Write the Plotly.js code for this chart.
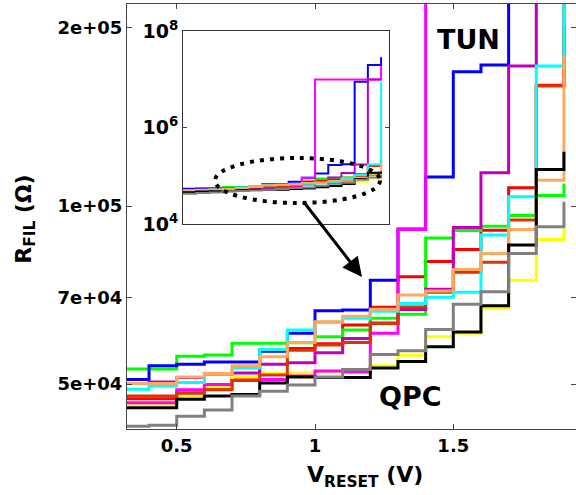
<!DOCTYPE html>
<html>
<head>
<meta charset="utf-8">
<script src="https://cdn.plot.ly/plotly-3.0.1.min.js"></script>
<style>html,body{margin:0;padding:0;background:#fff;}#chart{width:576px;height:495px;}</style>
</head>
<body>
<div id="chart"></div>
<script>
// Reset voltage steps (V)
const vReset = [0.3,0.4,0.5,0.6,0.7,0.8,0.9,1.0,1.1,1.2,1.3,1.4,1.5,1.6,1.7,1.8,1.9];

// Filament resistance per device (Ohm)
const blue    = [50900,53700,54000,54500,54500,56800,60900,66500,66700,74900,91400,112000,168700,173200,9.0e6,2.0e7,2.9e7];
const magenta = [46500,46500,48900,49900,50700,50900,51600,52600,52400,60900,91300,1.0e7,1.0e7,1.0e7,1.0e7,1.0e7,1.9e7];
const purple  = [50100,50400,51300,52000,52200,54000,54300,56500,59700,63400,66800,72300,92000,113800,172500,1.0e7,1.0e7];
const cyan    = [49000,49600,50300,52000,53200,57200,61700,63600,64600,66400,68400,70100,71500,89300,103700,172500,9.0e6];
const red     = [47200,47200,48300,49200,51100,57000,57400,58500,62900,67400,75900,80600,84400,91000,107400,160000,230000];
const darkred = [47700,47700,48300,48900,50700,51800,57000,58200,58800,63300,67500,71500,77300,80300,94700,159500,201600];
const orange  = [50100,50100,51400,52100,53700,55600,58800,63700,65100,66900,70700,71800,78100,83100,91300,110600,180000];
const green   = [53000,53000,55700,56000,58600,58600,58700,60100,61700,64600,65600,88300,90900,92400,96400,104200,109200];
const yellow  = [46200,46200,47500,49400,51400,52100,52200,52400,52800,53700,55900,60100,60900,67100,74900,87800,91600];
const black   = [45600,45600,47100,47700,48000,50200,51400,51300,51300,53200,54600,57800,61200,67800,85900,115300,123500];
const gray    = [42400,42600,44100,45200,47700,48600,49800,51400,52900,56100,56900,61800,68200,71600,83100,92200,101700];

const mainTickVals = [5e4, 7e4, 1e5, 2e5];
const mainTickText = ['5e+04', '7e+04', '1e+05', '2e+05'];
const xTickVals = [0.5, 1, 1.5];
const xTickText = ['0.5', '1', '1.5'];
const insetTickVals = [1e4, 1e6, 1e8];
const insetTickText = ['10<sup>4</sup>', '10<sup>6</sup>', '10<sup>8</sup>'];

// draw order bottom -> top
const series = [
  {y: red, c: '#FF0000'},
  {y: green, c: '#00FF00'},
  {y: yellow, c: '#FFFF00'},
  {y: blue, c: '#0000FF'},
  {y: magenta, c: '#FF00FF'},
  {y: purple, c: '#BF00BF'},
  {y: darkred, c: '#DD3300'},
  {y: cyan, c: '#00FFFF'},
  {y: orange, c: '#FFA860'},
  {y: black, c: '#000000'},
  {y: gray, c: '#808080'}
];

const traces = [];
series.forEach(s => {
  traces.push({x: vReset, y: s.y, type: 'scatter', mode: 'lines',
    line: {shape: 'hv', color: s.c, width: 3}, xaxis: 'x', yaxis: 'y', hoverinfo: 'skip'});
});
series.forEach(s => {
  traces.push({x: vReset, y: s.y, type: 'scatter', mode: 'lines',
    line: {shape: 'hv', color: s.c, width: 2}, xaxis: 'x2', yaxis: 'y2', hoverinfo: 'skip'});
});

const F = 'DejaVu Sans, Arial, sans-serif';
const layout = {
  width: 576, height: 495,
  margin: {l: 127, r: 0, t: 4, b: 66},
  paper_bgcolor: '#fff', plot_bgcolor: '#fff',
  showlegend: false,
  xaxis: {
    domain: [0, 1], range: [0.3203, 1.9436],
    tickvals: xTickVals, ticktext: xTickText,
    ticks: 'inside', ticklen: 5, tickcolor: '#444', mirror: 'ticks',
    showline: true, linecolor: '#444', linewidth: 1, showgrid: false, zeroline: false,
    tickfont: {family: F, size: 18, color: '#000', weight: 'bold'}
  },
  yaxis: {
    type: 'log', range: [4.6229, 5.3416],
    tickvals: mainTickVals, ticktext: mainTickText,
    ticks: 'inside', ticklen: 5, tickcolor: '#444', mirror: 'ticks',
    showline: true, linecolor: '#444', linewidth: 1, showgrid: false, zeroline: false,
    tickfont: {family: F, size: 18, color: '#000', weight: 'bold'}
  },
  xaxis2: {
    domain: [0.1247, 0.5835], range: [0.4, 1.96], anchor: 'y2',
    showticklabels: false, ticks: '', showline: true, mirror: true,
    linecolor: '#333', linewidth: 1, showgrid: false, zeroline: false
  },
  yaxis2: {
    domain: [0.4824, 0.9355], type: 'log', range: [3.999, 8.001], anchor: 'x2',
    tickvals: insetTickVals, ticktext: insetTickText,
    ticks: 'inside', ticklen: 4, tickcolor: '#444', mirror: 'ticks',
    showline: true, linecolor: '#333', linewidth: 1, showgrid: false, zeroline: false,
    tickfont: {family: F, size: 19, color: '#000', weight: 'bold'}
  },
  shapes: [
    {type: 'circle', xref: 'paper', yref: 'paper', x0: 0.196, x1: 0.5635, y0: 0.5318, y1: 0.6376,
     line: {color: '#000', width: 4, dash: '4px,6px'}}
  ],
  annotations: [
    {xref: 'paper', yref: 'paper', x: 0.5234, y: 0.3576, ax: -59, ay: -76, axref: 'pixel', ayref: 'pixel',
     text: '', showarrow: true, arrowhead: 2, arrowsize: 1.3, arrowwidth: 3, arrowcolor: '#000'},
    {xref: 'paper', yref: 'paper', x: 0.7595, y: 0.9176, text: 'TUN', showarrow: false,
     xanchor: 'center', yanchor: 'middle', font: {family: F, size: 27, color: '#000', weight: 'bold'}},
    {xref: 'paper', yref: 'paper', x: 0.6325, y: 0.0776, text: 'QPC', showarrow: false,
     xanchor: 'center', yanchor: 'middle', font: {family: F, size: 27, color: '#000', weight: 'bold'}},
    {xref: 'paper', yref: 'paper', x: 0.53, y: -0.1106, text: 'V<sub>RESET</sub> (V)', showarrow: false,
     xanchor: 'center', yanchor: 'middle', font: {family: F, size: 22, color: '#000', weight: 'bold'}},
    {xref: 'paper', yref: 'paper', x: -0.2277, y: 0.494, text: 'R<sub>FIL</sub> (Ω)', showarrow: false,
     textangle: -90, xanchor: 'center', yanchor: 'middle', font: {family: F, size: 22, color: '#000', weight: 'bold'}}
  ]
};

Plotly.newPlot('chart', traces, layout, {staticPlot: true, displayModeBar: false});
</script>
</body>
</html>
